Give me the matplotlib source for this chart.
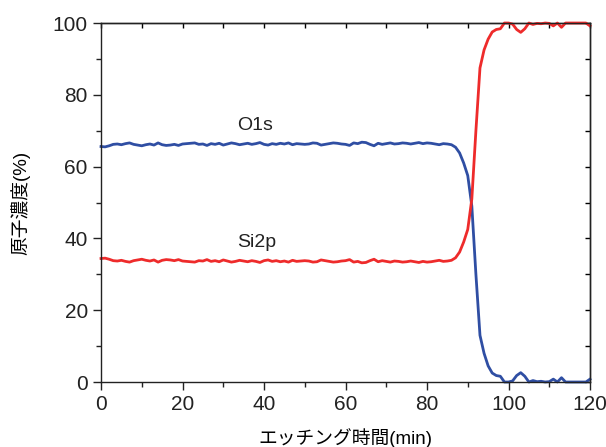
import matplotlib
matplotlib.use("Agg")
import matplotlib.pyplot as plt
from matplotlib.ticker import MultipleLocator

plt.rcParams['font.family'] = ['Liberation Sans', 'Noto Sans CJK JP', 'DejaVu Sans']

# etching time (min), one reading per minute
time_min = list(range(0, 121))

o1s = [65.6, 65.5, 65.8, 66.2, 66.3, 66.1, 66.4, 66.6, 66.2, 66.0,
       65.8, 66.1, 66.3, 66.0, 66.6, 66.1, 65.9, 66.0, 66.2, 65.9,
       66.3, 66.4, 66.5, 66.6, 66.2, 66.3, 65.9, 66.4, 66.2, 66.5,
       66.0, 66.3, 66.6, 66.4, 66.1, 66.3, 66.5, 66.2, 66.4, 66.7,
       66.2, 66.0, 66.4, 66.2, 66.5, 66.3, 66.6, 66.1, 66.4, 66.3,
       66.2, 66.3, 66.6, 66.5, 66.0, 66.2, 66.4, 66.6, 66.5, 66.3,
       66.2, 65.9, 66.6, 66.4, 66.8, 66.7, 66.2, 65.8, 66.5, 66.2,
       66.4, 66.6, 66.3, 66.4, 66.6, 66.5, 66.3, 66.5, 66.7, 66.4,
       66.6, 66.5, 66.3, 66.1, 66.4, 66.3, 66.1, 65.4, 63.8, 61.0,
       57.5, 49.0, 30.0, 13.0, 8.0, 4.5, 2.5, 1.8, 1.6, 0.0,
       0.0, 0.3, 1.8, 2.6, 1.6, 0.0, 0.4, 0.1, 0.2, 0.0,
       0.1, 0.8, 0.0, 1.2, 0.0, 0.0, 0.0, 0.0, 0.0, 0.0,
       0.8]

si2p = [34.4, 34.5, 34.2, 33.8, 33.7, 33.9, 33.6, 33.4, 33.8, 34.0,
        34.2, 33.9, 33.7, 34.0, 33.4, 33.9, 34.1, 34.0, 33.8, 34.1,
        33.7, 33.6, 33.5, 33.4, 33.8, 33.7, 34.1, 33.6, 33.8, 33.5,
        34.0, 33.7, 33.4, 33.6, 33.9, 33.7, 33.5, 33.8, 33.6, 33.3,
        33.8, 34.0, 33.6, 33.8, 33.5, 33.7, 33.4, 33.9, 33.6, 33.7,
        33.8, 33.7, 33.4, 33.5, 34.0, 33.8, 33.6, 33.4, 33.5, 33.7,
        33.8, 34.1, 33.4, 33.6, 33.2, 33.3, 33.8, 34.2, 33.5, 33.8,
        33.6, 33.4, 33.7, 33.6, 33.4, 33.5, 33.7, 33.5, 33.3, 33.6,
        33.4, 33.5, 33.7, 33.9, 33.6, 33.7, 33.9, 34.6, 36.2, 39.0,
        42.5, 51.0, 70.0, 87.5, 92.5, 95.5, 97.5, 98.2, 98.4, 100.0,
        100.0, 99.7, 98.2, 97.4, 98.4, 100.0, 99.6, 99.9, 99.8, 100.0,
        99.9, 99.2, 100.0, 98.8, 100.0, 100.0, 100.0, 100.0, 100.0, 100.0,
        99.2]

fig = plt.figure(figsize=(6.06, 4.47), dpi=100)
ax = fig.add_axes([0.1667, 0.1454, 0.8069, 0.8031])

ax.plot(time_min, o1s, color="#2f4ea3", lw=2, clip_on=False)
ax.plot(time_min, si2p, color="#ee2b2b", lw=2, clip_on=False)

ax.text(33.5, 70.3, "O1s", fontsize=14, color="#222222")
ax.text(33.5, 37.6, "Si2p", fontsize=14, color="#222222")

ax.set_xlim(0, 120)
ax.set_ylim(0, 100)
ax.xaxis.set_major_locator(MultipleLocator(20))
ax.xaxis.set_minor_locator(MultipleLocator(10))
ax.yaxis.set_major_locator(MultipleLocator(20))
ax.yaxis.set_minor_locator(MultipleLocator(10))

ax.tick_params(which="both", direction="out", top=False, right=False,
               labelsize=15, colors="#222222", width=1)
ax.tick_params(which="major", length=6)
ax.tick_params(which="minor", length=3.5)

# inward ticks on the top and right edges
top = ax.secondary_xaxis("top")
top.xaxis.set_major_locator(MultipleLocator(10))
top.tick_params(direction="in", length=3.5, labeltop=False, width=1)
right = ax.secondary_yaxis("right")
right.yaxis.set_major_locator(MultipleLocator(10))
right.tick_params(direction="in", length=3.5, labelright=False, width=1)

for sp in list(ax.spines.values()) + [top.spines["top"], right.spines["right"]]:
    sp.set_color("#222222")
    sp.set_linewidth(1)

ax.set_xlabel("エッチング時間(min)", fontsize=13.5, labelpad=10)
ax.set_ylabel("原子濃度(%)", fontsize=13.5, labelpad=16)

fig.savefig("out.png", dpi=100)
